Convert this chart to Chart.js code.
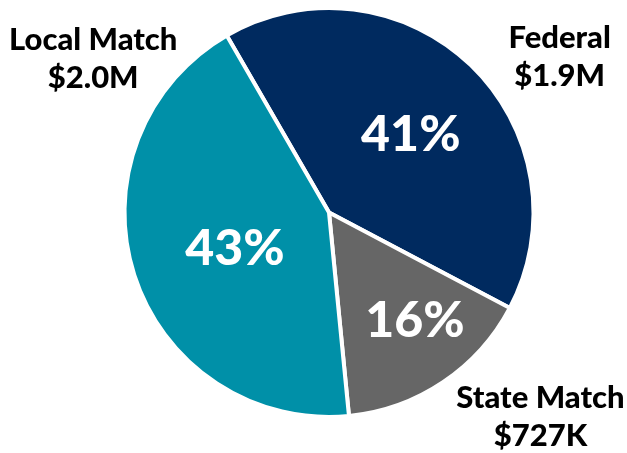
<!DOCTYPE html>
<html>
<head>
<meta charset="utf-8">
<script src="https://cdn.jsdelivr.net/npm/chart.js@4.4.1/dist/chart.umd.min.js"></script>
<style>
    html, body { margin: 0; padding: 0; background: #fff; }
    #wrap { width: 627px; height: 453px; }
</style>
</head>
<body>
<div id="wrap"><canvas id="fundingChart"></canvas></div>
<script>
// funding sources, in millions of dollars
const categories = ['Federal', 'State Match', 'Local Match'];
const amounts = [1.9, 0.727, 2.0];
const amountLabels = ['$1.9M', '$727K', '$2.0M'];
const sliceColors = ['#002a5f', '#666666', '#0090a8'];

// where each label sits relative to the pie center, as a fraction of the radius
const pctOffsets = [[0.40, -0.38], [0.42, 0.53], [-0.46, 0.18]];
const nameOffsets = [[1.128, -0.852], [1.034, 0.906], [-1.153, -0.842]];

const FONT = 'Lato, "Open Sans", sans-serif';

const sliceLabels = {
    id: 'sliceLabels',
    afterDatasetsDraw(chart) {
        const ctx = chart.ctx;
        const meta = chart.getDatasetMeta(0);
        const total = amounts.reduce((a, b) => a + b, 0);
        ctx.save();
        ctx.textAlign = 'center';
        ctx.textBaseline = 'middle';
        meta.data.forEach((arc, i) => {
            const r = arc.outerRadius;
            const cx = arc.x, cy = arc.y;
            // percentage inside the slice
            const pct = Math.round(amounts[i] / total * 100) + '%';
            ctx.fillStyle = '#ffffff';
            ctx.font = '900 50px ' + FONT;
            ctx.fillText(pct, cx + pctOffsets[i][0] * r, cy + pctOffsets[i][1] * r);
            // name and amount outside
            const nx = cx + nameOffsets[i][0] * r;
            const ny = cy + nameOffsets[i][1] * r;
            ctx.fillStyle = '#000000';
            ctx.font = '900 31px ' + FONT;
            ctx.fillText(categories[i], nx, ny);
            ctx.fillText(amountLabels[i], nx, ny + 38);
        });
        ctx.restore();
    }
};

new Chart(document.getElementById('fundingChart'), {
    type: 'pie',
    data: {
        labels: categories,
        datasets: [{
            data: amounts,
            backgroundColor: sliceColors,
            borderColor: '#ffffff',
            borderWidth: 4
        }]
    },
    options: {
        responsive: true,
        maintainAspectRatio: false,
        animation: false,
        rotation: -30,
        layout: { padding: { top: 6, bottom: 34, left: 31, right: 0 } },
        plugins: {
            legend: { display: false },
            tooltip: { enabled: false }
        }
    },
    plugins: [sliceLabels]
});
</script>
</body>
</html>
